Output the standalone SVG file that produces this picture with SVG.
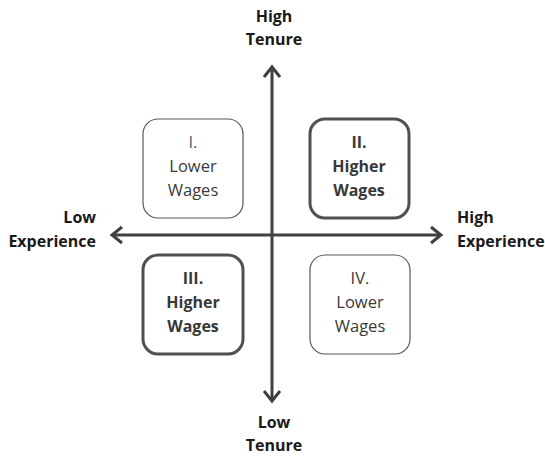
<svg xmlns="http://www.w3.org/2000/svg" width="545" height="456" viewBox="0 0 545 456">
<style>
.box{fill:#fff;stroke:#595959;stroke-width:1.2}
.bold{fill:#fff;stroke:#505050;stroke-width:3}
.t{font-family:"Open Sans","Liberation Sans",sans-serif;font-size:16.5px;fill:#3a3a3a;text-anchor:middle}
.tb{font-family:"Open Sans","Liberation Sans",sans-serif;font-size:16px;font-weight:bold;fill:#383838;text-anchor:middle}
.ax{font-family:"Open Sans","Liberation Sans",sans-serif;font-size:16px;font-weight:bold;fill:#1a1a1a}
.line{stroke:#404040;stroke-width:3;fill:none}
.head{stroke:#404040;stroke-width:3;fill:none;stroke-linecap:butt;stroke-linejoin:miter}
</style>
<rect width="545" height="456" fill="#fff"/>
<g id="connectors">
<line class="line" x1="112" y1="235" x2="441" y2="235"/>
<line class="line" x1="272" y1="67" x2="272" y2="401"/>
<polyline class="head" points="122,227 112,235 122,243"/>
<polyline class="head" points="431,227 441,235 431,243"/>
<polyline class="head" points="264,77 272,67 280,77"/>
<polyline class="head" points="264,391 272,401 280,391"/>
</g>
<g id="q1">
<rect class="box" x="143" y="119" width="100" height="99" rx="15"/>
<text class="t" x="193" y="148" style="fill:#4a6382">I.</text>
<text class="t" x="193" y="172">Lower</text>
<text class="t" x="193" y="196">Wages</text>
</g>
<g id="q2">
<rect class="bold" x="310" y="119" width="99" height="99" rx="15"/>
<text class="tb" x="359" y="148">II.</text>
<text class="tb" x="359" y="172">Higher</text>
<text class="tb" x="359" y="196">Wages</text>
</g>
<g id="q3">
<rect class="bold" x="143" y="255" width="100" height="99" rx="15"/>
<text class="tb" x="193" y="284">III.</text>
<text class="tb" x="193" y="308">Higher</text>
<text class="tb" x="193" y="332">Wages</text>
</g>
<g id="q4">
<rect class="box" x="310" y="255" width="100" height="99" rx="15"/>
<text class="t" x="360" y="284">IV.</text>
<text class="t" x="360" y="308">Lower</text>
<text class="t" x="360" y="332">Wages</text>
</g>
<g id="high-tenure">
<text class="ax" x="274" y="22" text-anchor="middle">High</text>
<text class="ax" x="274" y="45" text-anchor="middle">Tenure</text>
</g>
<g id="low-tenure">
<text class="ax" x="274" y="428" text-anchor="middle">Low</text>
<text class="ax" x="274" y="451" text-anchor="middle">Tenure</text>
</g>
<g id="low-experience">
<text class="ax" x="96" y="223" text-anchor="end">Low</text>
<text class="ax" x="96" y="247" text-anchor="end">Experience</text>
</g>
<g id="high-experience">
<text class="ax" x="457" y="223">High</text>
<text class="ax" x="457" y="247">Experience</text>
</g>
</svg>
